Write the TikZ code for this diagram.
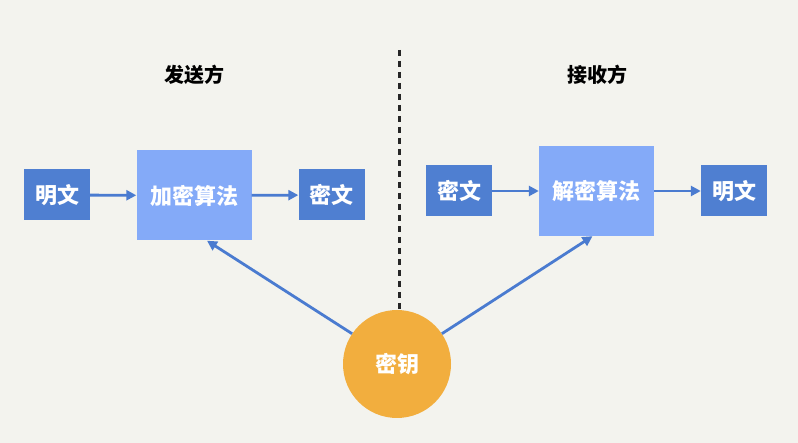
\documentclass[tikz,border=0pt]{standalone}
\usepackage{fontspec}
\usepackage{xcolor}
\setmainfont{Noto Sans CJK SC}
\usetikzlibrary{arrows.meta,positioning}
\definecolor{bgc}{HTML}{F3F3EE}
\definecolor{darkbox}{HTML}{4F7FD1}
\definecolor{lightbox}{HTML}{84AAF8}
\definecolor{keyc}{HTML}{F2AE3E}
\definecolor{linec}{HTML}{4A7BD0}

\begin{document}
\begin{tikzpicture}[x=1pt, y=-1pt, font=\fontsize{22}{26}\selectfont\bfseries,
  small/.style={fill=darkbox, text=white, minimum width=66pt, minimum height=51pt, inner sep=0pt},
  algo/.style={fill=lightbox, text=white, minimum width=115pt, minimum height=90pt, inner sep=0pt},
  flow/.style={-{Triangle[length=10pt,width=10pt]}, line width=2.8pt, linec}]
\fill[bgc] (0,0) rectangle (798,443);
\useasboundingbox (0,0) rectangle (798,443);
% sender side
\node[font=\fontsize{20}{24}\selectfont\bfseries] (send) at (194,75) {发送方};
\node[small] (plain1) at (57,195) {明文};
\node[algo] (enc) at (194,195.5) {加密算法};
\node[small] (cipher1) at (331.5,195) {密文};
% receiver side
\node[font=\fontsize{20}{24}\selectfont\bfseries] (recv) at (597,75) {接收方};
\node[small] (cipher2) at (459,191) {密文};
\node[algo] (dec) at (596.5,191) {解密算法};
\node[small] (plain2) at (734,191) {明文};
% key
\node[circle, fill=keyc, text=white, minimum size=108pt, inner sep=0pt] (key) at (397,364) {密钥};
\coordinate (top) at (399,50);
\draw[line width=3pt, dash pattern=on 6pt off 5pt, black!85] (top) -- (key.north -| top);
\draw[flow] (plain1) -- (enc);
\draw[flow] (enc) -- (cipher1);
\draw[flow] (cipher2) -- (dec);
\draw[flow] (dec) -- (plain2);
\draw[flow] (key.146) -- ([xshift=13pt]enc.south);
\draw[flow] (key.34) -- ([xshift=-4pt]dec.south);
\end{tikzpicture}
\end{document}
